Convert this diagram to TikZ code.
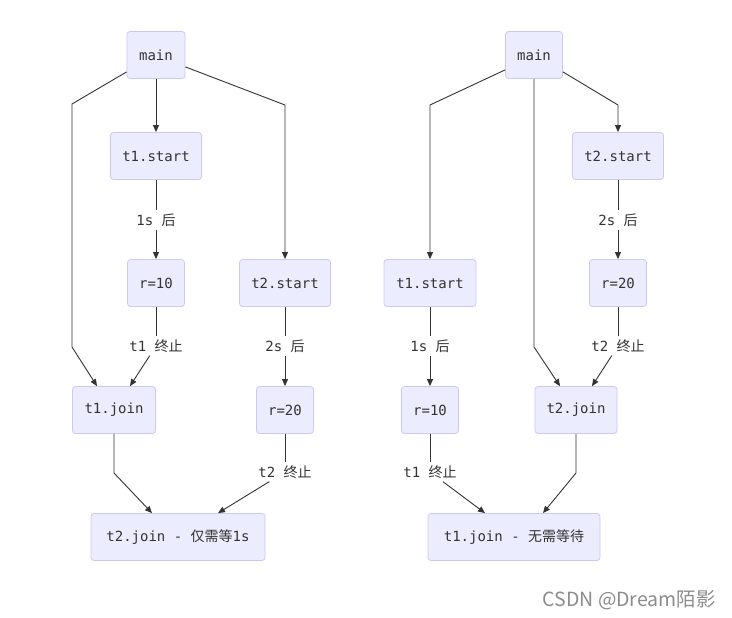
\documentclass[tikz,border=0pt]{standalone}
\usepackage{fontspec}
\setmainfont{Noto Sans CJK SC}
\setmonofont{DejaVu Sans Mono}
\newfontfamily\cjk{Noto Sans CJK SC}
\usetikzlibrary{arrows.meta,calc}
\definecolor{boxfill}{HTML}{ECECFF}
\definecolor{boxline}{HTML}{C9C9F4}
\definecolor{edge}{HTML}{333333}
\definecolor{txt}{HTML}{333333}
\newcommand{\mylab}[2]{{\ttfamily #1\ }{\cjk #2}}
\tikzset{
  box/.style={draw=boxline, fill=boxfill, rounded corners=3pt, line width=0.8pt,
    minimum height=47pt, inner xsep=2pt, text=txt,
    font=\ttfamily\fontsize{14pt}{16pt}\selectfont},
  lbl/.style={fill=white, inner xsep=2pt, inner ysep=3pt, text=txt,
    font=\fontsize{14pt}{16pt}\selectfont},
  conn/.style={draw=edge, line width=0.9pt},
  arr/.style={conn, -{Triangle[length=7pt,width=6pt]}}
}
\begin{document}
\begin{tikzpicture}[x=1pt,y=-1pt]
\useasboundingbox (0,0) rectangle (732,618);
% ---------------- left ----------------
\node[box, minimum width=58pt] (mainL) at (156,55) {main};
\node[box, minimum width=91pt] (t1sL) at (156,156) {t1.start};
\node[box, minimum width=57pt] (r10L) at (156,283) {r=10};
\node[box, minimum width=91pt] (t2sL) at (285,283) {t2.start};
\node[box, minimum width=83pt] (t1jL) at (114,410) {t1.join};
\node[box, minimum width=57pt] (r20L) at (285,410) {r=20};
\node[box, minimum width=174pt] (t2jL) at (178,537) {t2.join - {\cjk 仅需等}1s};

\node[lbl] (l1sL) at (156,220) {\mylab{1s}{后}};
\node[lbl] (lt1L) at (156,346) {\mylab{t1}{终止}};
\node[lbl] (l2sL) at (285,346) {\mylab{2s}{后}};
\node[lbl] (lt2L) at (285,472) {\mylab{t2}{终止}};

\coordinate (aL1) at (72,104);
\coordinate (aL2) at (72,347);
\coordinate (aL3) at (285,105);
\coordinate (aL4) at (114,473);

\draw[arr] (mainL) -- (t1sL);
\draw[arr] ([yshift=7pt]mainL.south west) -- (aL1) -- (aL2) -- ([xshift=-17pt]t1jL.north);
\draw[arr] ([yshift=12pt]mainL.south east) -- (aL3) -- (t2sL.north);
\draw[conn] (t1sL) -- (l1sL);
\draw[arr] (l1sL) -- (r10L);
\draw[conn] (r10L) -- (lt1L);
\draw[arr] (lt1L) -- ([xshift=16pt]t1jL.north);
\draw[conn] (t2sL) -- (l2sL);
\draw[arr] (l2sL) -- (r20L);
\draw[arr] (t1jL.south) -- (aL4) -- ([xshift=-26pt]t2jL.north);
\draw[conn] (r20L) -- (lt2L);
\draw[arr] (lt2L) -- ([xshift=40pt]t2jL.north);

% ---------------- right ----------------
\node[box, minimum width=57pt] (mainR) at (534,55) {main};
\node[box, minimum width=91pt] (t2sR) at (618,156) {t2.start};
\node[box, minimum width=92pt] (t1sR) at (430,283) {t1.start};
\node[box, minimum width=57pt] (r20R) at (618,283) {r=20};
\node[box, minimum width=57pt] (r10R) at (430,410) {r=10};
\node[box, minimum width=82pt] (t2jR) at (576,410) {t2.join};
\node[box, minimum width=172pt] (t1jR) at (514,537) {t1.join - {\cjk 无需等待}};

\node[lbl] (l2sR) at (618,220) {\mylab{2s}{后}};
\node[lbl] (l1sR) at (430,346) {\mylab{1s}{后}};
\node[lbl] (lt2R) at (618,346) {\mylab{t2}{终止}};
\node[lbl] (lt1R) at (430,472) {\mylab{t1}{终止}};

\coordinate (aR1) at (430,105);
\coordinate (aR2) at (534,347);
\coordinate (aR3) at (618,105);
\coordinate (aR4) at (576,473);

\draw[arr] ([yshift=9pt]mainR.south west) -- (aR1) -- (t1sR.north);
\draw[arr] (mainR.south) -- (aR2) -- ([xshift=-16pt]t2jR.north);
\draw[arr] ([yshift=7pt]mainR.south east) -- (aR3) -- (t2sR.north);
\draw[conn] (t2sR) -- (l2sR);
\draw[arr] (l2sR) -- (r20R);
\draw[conn] (t1sR) -- (l1sR);
\draw[arr] (l1sR) -- (r10R);
\draw[conn] (r20R) -- (lt2R);
\draw[arr] (lt2R) -- ([xshift=16pt]t2jR.north);
\draw[conn] (r10R) -- (lt1R);
\draw[arr] (lt1R) -- ([xshift=-29pt]t1jR.north);
\draw[arr] (t2jR.south) -- (aR4) -- ([xshift=29pt]t1jR.north);

% watermark
\node[anchor=east, text=black!45, font=\fontsize{19.5pt}{22pt}\selectfont, inner sep=0pt] (wm) at (716,600) {CSDN @Dream陌影};
\end{tikzpicture}
\end{document}
